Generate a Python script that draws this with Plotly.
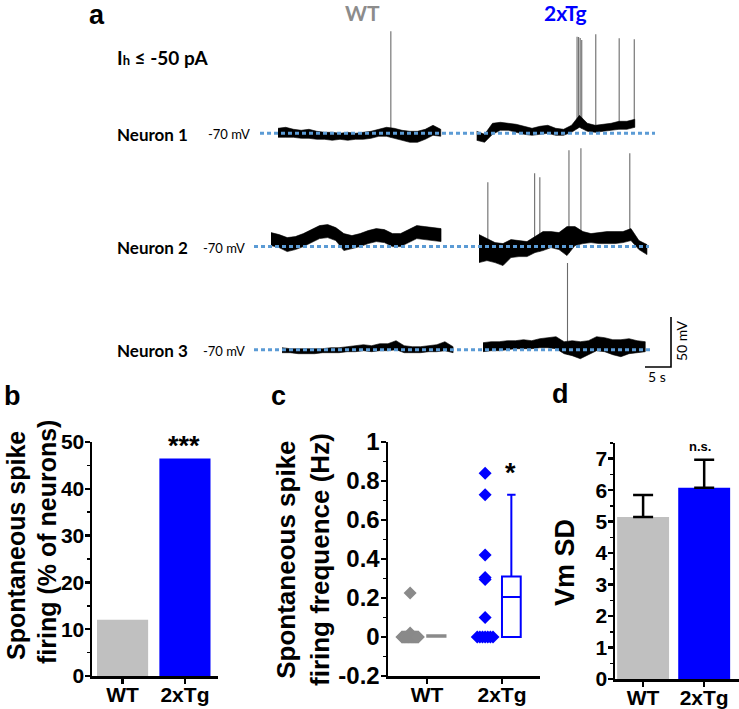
import numpy as np
import plotly.graph_objects as go

# ---------------------------------------------------------------- data
GROUPS = ["WT", "2xTg"]
V_REST = -70  # mV, dotted reference line

# Panel a: membrane-potential traces, read as upper / lower envelope (mV above -70)
n1_wt_dur = 31.3
n1_wt_up = [5, 6, 4, 3, 4, 2, 1, 1, 0, 1, 0, 1, 2, 4, 6, 5, 3, 2, 2, 4, 8, 4]
n1_wt_lo = [-4, -4, -4, -5, -5, -6, -6, -7, -6, -7, -6, -6, -5, -3, -3, -5, -7, -9, -9, -6, -2, -3]
n1_tg_dur = 30.4
n1_tg_up = [2, -1, 10, 11, 10, 9, 7, 5, 7, 8, 5, 4, 8, 18, 10, 8, 9, 10, 12, 12, 14]
n1_tg_lo = [-7, -9, -1, 3, 3, 1, -1, -2, -1, 0, -2, -2, 1, 6, 2, 1, 2, 3, 4, 4, 6]

n2_wt_dur = 32.7
n2_wt_up = [14, 12, 9, 10, 13, 17, 21, 22, 19, 13, 11, 13, 16, 18, 17, 13, 13, 17, 21, 20, 19, 18]
n2_wt_lo = [1, -1, -5, -3, 0, 4, 8, 9, 6, -4, -2, 0, 3, 5, 4, 0, 0, 4, 8, 7, 6, 5]
n2_tg_dur = 32.3
n2_tg_up = [12, 8, 4, 3, 7, 6, 5, 10, 15, 15, 14, 20, 20, 15, 13, 14, 15, 15, 15, 18, 6, 2]
n2_tg_lo = [-16, -14, -16, -19, -11, -10, -10, -6, -4, -1, -3, -9, 1, 3, 4, 3, 3, 3, 4, 6, -3, -8]

n3_wt_dur = 32.9
n3_wt_up = [2, 1, 1, 1, 1, 1, 2, 2, 3, 4, 5, 4, 6, 6, 9, 4, 3, 3, 4, 5, 8, 3]
n3_wt_lo = [-3, -3, -4, -4, -4, -3, -3, -3, -2, -2, -1, -2, -1, -1, 0, -3, -3, -3, -2, -2, -1, -3]
n3_tg_dur = 31.2
n3_tg_up = [7, 8, 8, 9, 9, 10, 9, 11, 12, 13, 8, 9, 8, 9, 13, 12, 10, 10, 11, 9, 8]
n3_tg_lo = [-2, -1, -1, 0, 1, 1, 1, 2, 2, 1, -4, -6, -9, -5, -1, -2, -5, -7, -4, -3, -2]

# spikes: time from trace start (s) and peak (mV)
n1_wt_spk_t = [21.7]
n1_wt_spk_v = [32]
n1_tg_spk_t = [19.3, 19.6, 19.9, 20.2, 22.9, 27.4, 30.3]
n1_tg_spk_v = [26.6, 26.3, 25.3, 23.3, 29, 25, 24]
n2_wt_spk_t = []
n2_wt_spk_v = []
n2_tg_spk_t = [1.7, 10.7, 11.7, 17.3, 19.6, 29.0]
n2_tg_spk_v = [-5.7, 3.3, -0.7, 26.3, 28.3, 23.3]
n3_wt_spk_t = []
n3_wt_spk_v = []
n3_tg_spk_t = [16.25]
n3_tg_spk_v = [16.7]

SCALE_T = 5    # s
SCALE_V = 50   # mV

# Panel b
pct_firing = [12, 46.5]
# Panel c
freq_wt = [0.225, 0.02, 0.01] + [0.0] * 22
freq_tg = [0.84, 0.73, 0.42, 0.305, 0.295, 0.10] + [0.0] * 7
box_q1 = [0.0, 0.0]
box_med = [0.0, 0.205]
box_q3 = [0.01, 0.31]
box_lo = [0.0, 0.0]
box_hi = [0.01, 0.73]
# Panel d
vm_sd_mean = [5.15, 6.08]
vm_sd_err = [0.70, 0.89]

# ---------------------------------------------------------------- layout helpers
W, H = 739, 709
PX_PER_S = 5.2
def fx(p): return p / W
def fy(p): return 1 - p / H

GRAY_BAR = "#c0c0c0"
BLUE = "#0000ff"
GRAY_PT = "#8a8a8a"
DOT_BLUE = "#5b9bd5"
ARIAL = "Liberation Sans, Arial"
CAL = "Lato, Open Sans"

fig = go.Figure()

# ---- panel a geometry (pixel positions)
ROW_BASE = [133.3, 246.6, 349.7]
ROW_DOM = [(20, 158), (138, 272), (255, 385)]
ROW_AX = ["y", "y2", "y3"]
TRACE_START = {(0, 0): 278, (0, 1): 476.7, (1, 0): 271, (1, 1): 479,
               (2, 0): 282, (2, 1): 483}
DOT_EXT = [(260, 655), (254, 649), (254, 650)]

traces = {
    (0, 0): (n1_wt_dur, n1_wt_up, n1_wt_lo, n1_wt_spk_t, n1_wt_spk_v),
    (0, 1): (n1_tg_dur, n1_tg_up, n1_tg_lo, n1_tg_spk_t, n1_tg_spk_v),
    (1, 0): (n2_wt_dur, n2_wt_up, n2_wt_lo, n2_wt_spk_t, n2_wt_spk_v),
    (1, 1): (n2_tg_dur, n2_tg_up, n2_tg_lo, n2_tg_spk_t, n2_tg_spk_v),
    (2, 0): (n3_wt_dur, n3_wt_up, n3_wt_lo, n3_wt_spk_t, n3_wt_spk_v),
    (2, 1): (n3_tg_dur, n3_tg_up, n3_tg_lo, n3_tg_spk_t, n3_tg_spk_v),
}

for (r, g), (dur, up, lo, st, sv) in traces.items():
    t0 = TRACE_START[(r, g)] / PX_PER_S
    t = np.linspace(0, dur, len(up)) + t0
    yu = np.array(up, float) + V_REST
    yl = np.array(lo, float) + V_REST
    if st:
        xs, ys = [], []
        for ti, vi in zip(st, sv):
            tt = ti + t0
            base = float(np.interp(tt, t, yl))
            xs += [tt, tt, None]
            ys += [base, vi, None]
        fig.add_trace(go.Scatter(x=xs, y=ys, mode="lines", yaxis=ROW_AX[r], xaxis="x",
                                 line=dict(color="#6a6a6a", width=1.1),
                                 hoverinfo="skip"))
    fig.add_trace(go.Scatter(x=list(t) + list(t[::-1]), y=list(yu) + list(yl[::-1]),
                             mode="lines", fill="toself", fillcolor="black",
                             line=dict(color="black", width=0.6),
                             yaxis=ROW_AX[r], xaxis="x", hoverinfo="skip"))

# scale bar (row 3 axes)
sb_x = 645 / PX_PER_S
sb_y = V_REST - (367 - ROW_BASE[2])
fig.add_trace(go.Scatter(x=[sb_x, sb_x + SCALE_T, sb_x + SCALE_T],
                         y=[sb_y, sb_y, sb_y + SCALE_V], mode="lines",
                         line=dict(color="black", width=1.6), yaxis="y3", xaxis="x",
                         hoverinfo="skip"))

shapes = []
for r in range(3):
    shapes.append(dict(type="line", xref="paper", yref=ROW_AX[r],
                       x0=fx(DOT_EXT[r][0]), x1=fx(DOT_EXT[r][1]), y0=V_REST, y1=V_REST,
                       line=dict(color=DOT_BLUE, width=3, dash="4px,3px")))

# ---- panel b
fig.add_trace(go.Bar(x=[0, 1], y=pct_firing, width=0.82,
                     marker=dict(color=[GRAY_BAR, BLUE], line=dict(width=0)),
                     xaxis="x2", yaxis="y4"))

# ---- panel c
def swarm(vals, step, maxw):
    offs = [0.0] * len(vals)
    seen = {}
    for i, v in enumerate(vals):
        seen.setdefault(v, []).append(i)
    for v, idx in seen.items():
        n = len(idx)
        if n > 1:
            s = min(step, maxw / (n - 1))
            for k, i in enumerate(idx):
                offs[i] = (k - (n - 1) / 2) * s
    return offs

PT_OFF = -0.225
BOX_OFF = 0.125
for gi, (vals, col) in enumerate([(freq_wt, GRAY_PT), (freq_tg, BLUE)]):
    offs = swarm(vals, 0.035, 0.22)
    xs = [gi + 1 + PT_OFF + o for o in offs]
    fig.add_trace(go.Scatter(x=xs, y=vals, mode="markers", xaxis="x3", yaxis="y5",
                             marker=dict(symbol="diamond", size=10, color=col, line=dict(width=0))))
    fig.add_trace(go.Box(x=[gi + 1 + BOX_OFF], q1=[box_q1[gi]], median=[box_med[gi]], q3=[box_q3[gi]],
                         lowerfence=[box_lo[gi]], upperfence=[box_hi[gi]], width=0.25,
                         whiskerwidth=0.45, boxpoints=False, fillcolor="white",
                         line=dict(color=col, width=2 if gi else 1.5), xaxis="x3", yaxis="y5"))

# ---- panel d
fig.add_trace(go.Bar(x=[0, 1], y=vm_sd_mean, width=0.85,
                     marker=dict(color=[GRAY_BAR, BLUE], line=dict(width=0)),
                     error_y=dict(type="data", symmetric=False, array=vm_sd_err, arrayminus=[0, 0],
                                  color="black", thickness=2.5, width=10),
                     xaxis="x4", yaxis="y6"))

def tickfont(size=21):
    return dict(family=ARIAL, size=size, color="black", weight="bold")

axbase = dict(showline=True, linecolor="black", linewidth=2.5, ticks="outside", ticklen=5,
              tickwidth=2.5, tickcolor="black", tickfont=tickfont(), showgrid=False, zeroline=False,
              fixedrange=True, automargin=False)
xax = dict(axbase, ticklabelstandoff=-7)
yax = dict(axbase, ticklabelstandoff=-4)
minor = lambda d: dict(dtick=d, ticks="outside", ticklen=3, tickwidth=1.5, tickcolor="black")

layout = dict(
    width=W, height=H, margin=dict(l=0, r=0, t=0, b=0, pad=0, autoexpand=False),
    template="none",
    paper_bgcolor="white", plot_bgcolor="rgba(0,0,0,0)", showlegend=False,
    xaxis=dict(domain=[0, 1], range=[0, W / PX_PER_S], visible=False, anchor="y", automargin=False),
    xaxis2=dict(xax, domain=[fx(92), fx(218)], range=[-0.49, 1.53], anchor="y4",
                tickvals=[0, 1], ticktext=GROUPS),
    xaxis3=dict(xax, domain=[fx(388), fx(540)], range=[0.48, 2.507], anchor="y5",
                tickvals=[1, 2], ticktext=GROUPS),
    xaxis4=dict(xax, domain=[fx(615), 1], range=[-0.46, 1.57], anchor="y6",
                tickvals=[0, 1], ticktext=GROUPS),
    yaxis4=dict(yax, domain=[fy(676), fy(442)], range=[0, 50], anchor="x2",
                tickvals=[0, 10, 20, 30, 40, 50], minor=minor(5)),
    yaxis5=dict(yax, domain=[fy(676), fy(442)], range=[-0.2, 1.0], anchor="x3",
                tickvals=[-0.2, 0, 0.2, 0.4, 0.6, 0.8, 1.0],
                ticktext=["-0.2", "0", "0.2", "0.4", "0.6", "0.8", "1"],
                tickfont=tickfont(24), minor=minor(0.1)),
    yaxis6=dict(yax, domain=[fy(679), fy(443)], range=[0, 7.5], anchor="x4",
                tickvals=list(range(8)), minor=minor(0.5)),
    shapes=shapes,
)
for r in range(3):
    top, bot = ROW_DOM[r]
    base = ROW_BASE[r]
    key = "yaxis" if r == 0 else f"yaxis{r + 1}"
    layout[key] = dict(domain=[fy(bot), fy(top)],
                       range=[V_REST - (bot - base), V_REST + (base - top)],
                       visible=False, anchor="x", fixedrange=True, automargin=False)
fig.update_layout(**layout)

ann = []
def txt(x, y, s, size, family=CAL, color="black", bold=False, angle=0, xa="center", ya="middle"):
    ann.append(dict(x=fx(x), y=fy(y), xref="paper", yref="paper", text=s, showarrow=False,
                    textangle=angle, xanchor=xa, yanchor=ya,
                    font=dict(family=family, size=size, color=color,
                              weight="bold" if bold else "normal")))

# panel a texts
txt(97, 15.5, "a", 27, ARIAL, bold=True)
txt(362, 13, "WT", 21, CAL, "#8c8c8c", bold=True)
txt(565, 13, "2xTg", 21, CAL, BLUE, bold=True)
txt(115, 58, "I<span style='font-size:13px'>h</span> ≤ -50 pA", 19, CAL, bold=True, xa="left")
for r in range(3):
    txt(152, ROW_BASE[r] + 1, f"Neuron {r + 1}", 17, CAL, bold=True)
    txt(252 if r == 0 else 247, ROW_BASE[r] + 1, "-70 mV", 13, CAL, xa="right")
txt(682, 341, "50 mV", 14, CAL, angle=-90)
txt(657, 377, "5 s", 14, CAL)

# panel letters and stats
txt(12, 396, "b", 27, ARIAL, bold=True)
txt(278, 396, "c", 27, ARIAL, bold=True)
txt(560, 394, "d", 27, ARIAL, bold=True)
txt(184, 446, "***", 27, ARIAL, bold=True)
txt(510, 473, "*", 27, ARIAL, bold=True)
txt(700, 446, "n.s.", 13, ARIAL, bold=True)

# axis titles
txt(16, 546, "Spontaneous spike", 25, ARIAL, bold=True, angle=-90)
txt(47, 542, "firing (% of neurons)", 25, ARIAL, bold=True, angle=-90)
txt(303, 560, "Spontaneous spike<br>firing frequence (Hz)", 26, ARIAL, bold=True, angle=-90)
txt(565, 563, "Vm SD", 27, ARIAL, bold=True, angle=-90)

fig.update_layout(annotations=ann)
fig.write_html("out.html", config={"displayModeBar": False, "staticPlot": True},
               post_script="document.body.style.margin='0';document.body.style.overflow='hidden';")
